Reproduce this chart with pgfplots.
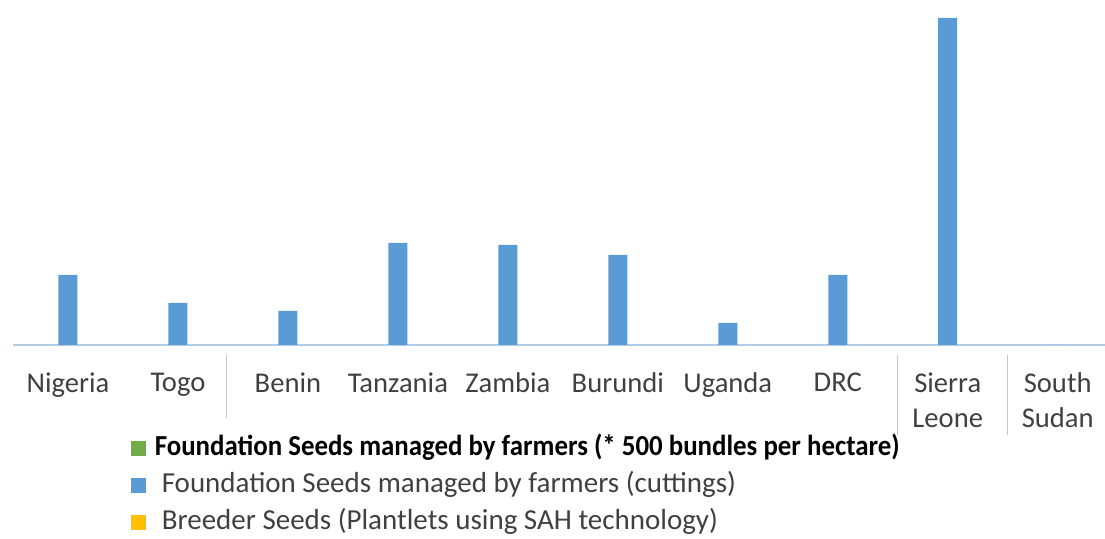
\documentclass[border=0pt]{standalone}
\usepackage{fontspec}
\setmainfont{Carlito}
\usepackage{pgfplots}
\pgfplotsset{compat=1.18}
\definecolor{cblue}{HTML}{5B9BD5}
\definecolor{cgreen}{HTML}{70AD47}
\definecolor{cyellow}{HTML}{FFC000}
\definecolor{ctext}{HTML}{404040}
\definecolor{caxis}{HTML}{B4CDE6}
\begin{document}
\begin{tikzpicture}
\useasboundingbox (0,0) rectangle (552.5pt,269.5pt);
\begin{axis}[
  at={(6.5pt,97pt)}, anchor=south west,
  scale only axis, width=546pt, height=163.5pt,
  ybar, bar width=9.5pt,
  xmin=-0.5, xmax=9.43, ymin=0, ymax=327,
  axis x line*=bottom, axis y line=none,
  x axis line style={-, caxis, line width=0.8pt},
  xtick=data, major tick length=0pt,
  xticklabels={Nigeria,Togo,Benin,Tanzania,Zambia,Burundi,Uganda,DRC,{Sierra\\Leone},{South\\Sudan}},
  xticklabel style={align=center, font=\fontsize{14.3}{17.5}\selectfont, text=ctext, yshift=-10.5pt},
  clip=false,
  legend style={at={(0.1075,-0.26)}, anchor=north west, draw=none, fill=none,
    font=\fontsize{14.5}{15}\selectfont, text=ctext, row sep=2.4pt, inner sep=0pt,
    /tikz/every odd column/.append style={column sep=6pt}},
  legend cell align=left,
  legend image code/.code={\fill[#1] (0pt,-4.5pt) rectangle (7.5pt,3pt);},
]
\addlegendimage{fill=cgreen, draw=none}
\addlegendentry{\hspace{-3.5pt}\scalebox{0.927}[1]{\textcolor{black}{\textbf{Foundation Seeds managed by farmers (* 500 bundles per hectare)}}}}
\addplot[fill=cblue, draw=none] coordinates {
  (0,70) (1,42) (2,34) (3,102) (4,100) (5,90) (6,22) (7,70) (8,327) (9,0)};
\addlegendentry{Foundation Seeds managed by farmers (cuttings)}
\addlegendimage{fill=cyellow, draw=none}
\addlegendentry{Breeder Seeds (Plantlets using SAH technology)}
\draw[gray!45, line width=0.6pt] (axis cs:1.44,-10) -- (axis cs:1.44,-73);
\draw[gray!45, line width=0.6pt] (axis cs:7.54,-10) -- (axis cs:7.54,-90);
\draw[gray!45, line width=0.6pt] (axis cs:8.54,-10) -- (axis cs:8.54,-90);
\end{axis}
\end{tikzpicture}
\end{document}
